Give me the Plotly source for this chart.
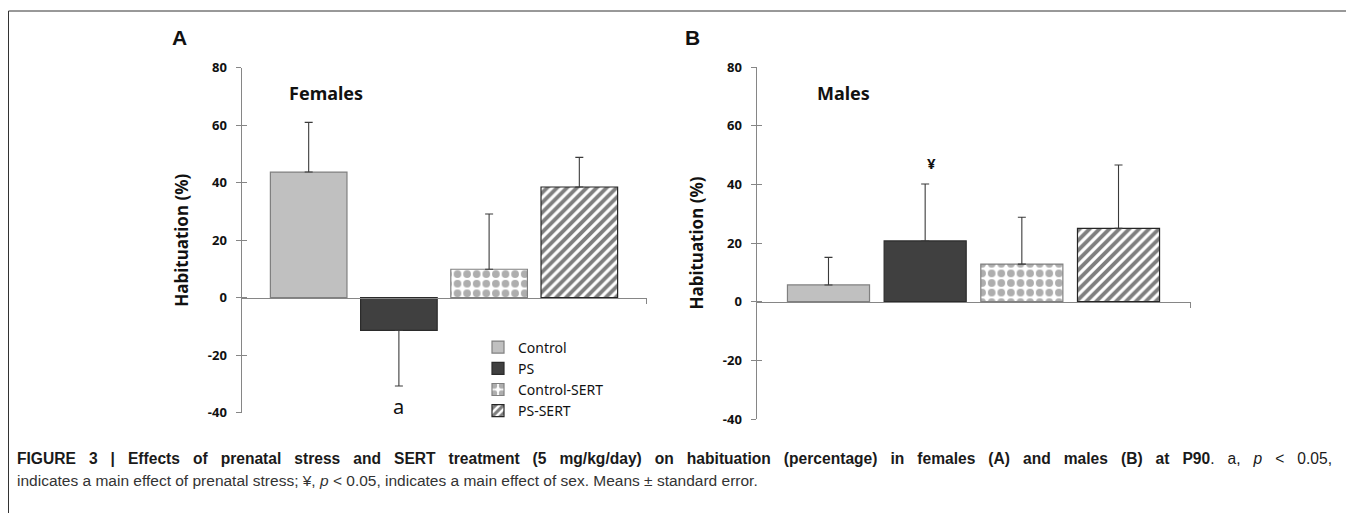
import plotly.graph_objects as go

W, H = 1354, 513
OFF = 8  # page offset of the plot inside the browser window

groups = ["Control", "PS", "Control-SERT", "PS-SERT"]
fem_vals = [43.7, -11.4, 9.9, 38.5]
fem_se = [17.3, 19.3, 19.2, 10.3]
male_vals = [5.7, 20.7, 12.8, 25.0]
male_se = [9.4, 19.4, 16.0, 21.6]
y_ticks = [-40, -20, 0, 20, 40, 60, 80]
y_tick_labels = ["-40", "-20", "0", "20", "40", "60", "80"]
y_range = [-40, 80]

fills = ["#c0c0c0", "#404040", "#ffffff", "#ffffff"]
edges = ["#808080", "#2b2b2b", "#808080", "#262626"]
patterns = [
    dict(shape=""),
    dict(shape=""),
    dict(shape=".", fgcolor="#5e5e5e", bgcolor="#ffffff", size=9.6, solidity=0.5, fillmode="overlay"),
    dict(shape="/", fgcolor="#000000", bgcolor="#ffffff", size=7, solidity=0.55, fillmode="overlay"),
]

def px(x):
    return (x - OFF) / W

def py(y):
    return 1 - (y - OFF) / H

# panel placement (window pixels)
A_x = [px(241.5), px(646.5)]
A_y = [py(412.7), py(67.7)]
B_x = [px(756.5), px(1190.5)]
B_y = [py(419.0), py(67.0)]

fig = go.Figure()

def add_panel(cat, vals, ses, xa, ya, show_legend):
    for i, g in enumerate(groups):
        v, s = vals[i], ses[i]
        up = s if v >= 0 else 0
        dn = s if v < 0 else 0
        fig.add_trace(go.Bar(
            x=[cat], y=[v], name=g, xaxis=xa, yaxis=ya,
            marker=dict(color=fills[i], line=dict(color=edges[i], width=1.2),
                        pattern=patterns[i]),
            error_y=dict(type="data", symmetric=False, array=[up], arrayminus=[dn],
                         color="#3a3a3a", thickness=1.1, width=4),
            showlegend=show_legend, legendgroup=g,
            hoverinfo="skip",
        ))

add_panel("Females", fem_vals, fem_se, "x", "y", True)
add_panel("Males", male_vals, male_se, "x2", "y2", False)
# dummies so the overlay (cross-tick) axes are drawn
fig.add_trace(go.Scatter(x=["Females"], y=[0], xaxis="x", yaxis="y3", mode="markers",
                         marker=dict(opacity=0), showlegend=False, hoverinfo="skip"))
fig.add_trace(go.Scatter(x=["Males"], y=[0], xaxis="x2", yaxis="y4", mode="markers",
                         marker=dict(opacity=0), showlegend=False, hoverinfo="skip"))

def zero_pos(dom):
    return dom[0] + (0 - y_range[0]) / (y_range[1] - y_range[0]) * (dom[1] - dom[0])

axis_col = "#868686"
tickfont = dict(family="Noto Sans", size=13, color="#111111", weight="bold")

def yaxis(dom, anchor):
    return dict(domain=dom, anchor=anchor, range=y_range, tickvals=y_ticks, ticktext=y_tick_labels,
                showgrid=False, zeroline=False, showline=True, linecolor=axis_col, linewidth=1,
                ticks="outside", ticklen=5, tickcolor=axis_col, tickwidth=1,
                tickfont=tickfont, ticklabelstandoff=6, automargin=False,
                title=dict(text="Habituation (%)", font=dict(family="Noto Sans", size=17,
                                                             color="#111111", weight="bold"),
                           standoff=14))

def yover(over, anchor):
    return dict(overlaying=over, anchor=anchor, range=y_range, tickvals=y_ticks,
                showgrid=False, zeroline=False, showline=False, showticklabels=False,
                ticks="inside", ticklen=5, tickcolor=axis_col, tickwidth=1, automargin=False)

def xaxis(dom, ydom):
    return dict(domain=dom, anchor="free", position=zero_pos(ydom), range=[-0.5, 0.5],
                showgrid=False, zeroline=False, showline=True, linecolor=axis_col, linewidth=1,
                ticks="outside", tickson="boundaries", ticklen=5, tickcolor=axis_col,
                showticklabels=False, automargin=False)

fig.update_layout(
    width=W, height=H, autosize=False,
    margin=dict(l=0, r=0, t=0, b=0, pad=0, autoexpand=False),
    paper_bgcolor="white", plot_bgcolor="rgba(0,0,0,0)",
    barmode="group",
    xaxis=xaxis(A_x, A_y), yaxis=yaxis(A_y, "x"),
    xaxis2=xaxis(B_x, B_y), yaxis2=yaxis(B_y, "x2"),
    yaxis3=yover("y", "x"), yaxis4=yover("y2", "x2"),
    bargap=0.109, bargroupgap=0.151,
    showlegend=True,
    legend=dict(x=470 / W, y=1 - 323.5 / H, xanchor="left", yanchor="top",
                font=dict(family="Noto Sans", size=14, color="#111111"),
                bgcolor="rgba(0,0,0,0)", itemwidth=30, tracegroupgap=0,
                traceorder="normal"),
)

ann = []
def t(x, y, text, size, family="Noto Sans", bold=False, xanchor="center", color="#111111"):
    ann.append(dict(x=px(x), y=py(y), xref="paper", yref="paper", text=text,
                    showarrow=False, xanchor=xanchor, yanchor="middle",
                    font=dict(family=family, size=size, color=color,
                              weight="bold" if bold else "normal")))

t(179, 37.5, "A", 21, family="Liberation Sans", bold=True)
t(692, 37.5, "B", 21, family="Liberation Sans", bold=True)
t(325.7, 92.7, "Females", 18, bold=True)
t(843.5, 92.7, "Males", 18, bold=True)
t(398.6, 406.5, "a", 20)
t(931.5, 163.5, "¥", 15, bold=True)

# caption: first line is justified in the original, so widen its word gaps
cap_font = "Liberation Sans"
J = " \u00a0\u00a0"
cap1_bold = "FIGURE 3 | Effects of prenatal stress and SERT treatment (5 mg/kg/day) on habituation (percentage) in females (A) and males (B) at P90"
cap1 = "<b>" + cap1_bold.replace(" ", J) + "</b>." + J + J.join(["a,", "<i>p</i>", "&lt;", "0.05,"])
cap2 = "indicates a main effect of prenatal stress; ¥, <i>p</i> &lt; 0.05, indicates a main effect of sex. Means ± standard error."
t(15, 458, cap1, 15.6, family=cap_font, xanchor="left", color="#1a1a1a")
t(15, 480, cap2, 15.5, family=cap_font, xanchor="left", color="#333333")
fig.update_layout(annotations=ann)

# figure frame
fig.add_shape(type="rect", xref="paper", yref="paper",
              x0=px(8.5), x1=px(1349), y0=-0.1, y1=py(11),
              line=dict(color="#333333", width=1), fillcolor="rgba(0,0,0,0)", layer="below")

fig.write_html("out.html")
